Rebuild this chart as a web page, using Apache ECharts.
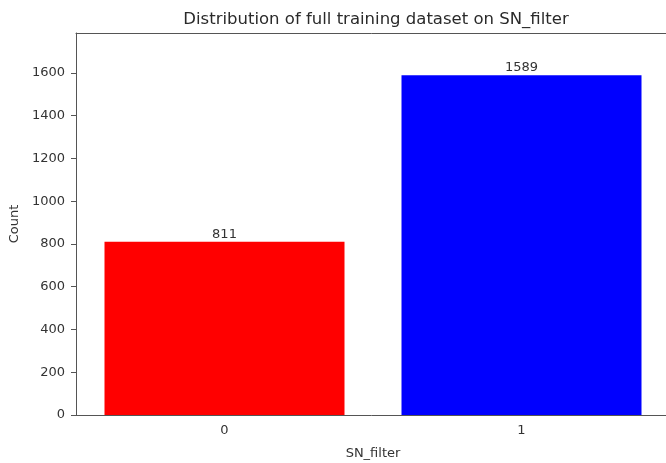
<!DOCTYPE html>
<html>
<head>
<meta charset="utf-8">
<script src="https://cdn.jsdelivr.net/npm/echarts@6/dist/echarts.min.js"></script>
<style>html,body{margin:0;padding:0;background:#fff}#c{width:666px;height:463px}</style>
</head>
<body>
<div id="c"></div>
<script>
const categories = ['0', '1'];
const counts = [811, 1589];
const barColors = ['#ff0000', '#0000ff'];
const yTicks = [0, 200, 400, 600, 800, 1000, 1200, 1400, 1600];

const chart = echarts.init(document.getElementById('c'), null, {renderer: 'canvas'});
const font = 'DejaVu Sans';
chart.setOption({
  animation: false,
  backgroundColor: '#fff',
  title: {
    text: 'Distribution of full training dataset on SN_filter',
    left: 371, top: 6, textAlign: 'center',
    textStyle: {fontFamily: font, fontSize: 16.5, fontWeight: 'normal', color: '#2a2a2a'}
  },
  grid: {left: 76, width: 594, top: 33, height: 382, show: false,
         outerBoundsMode: 'none', containLabel: false},
  xAxis: [{
    type: 'category', data: categories,
    name: 'SN_filter', nameLocation: 'middle', nameGap: 32,
    nameTextStyle: {fontFamily: font, fontSize: 13, color: '#333'},
    axisLine: {lineStyle: {color: '#555'}},
    axisTick: {alignWithLabel: true, length: 5, lineStyle: {color: '#555'}},
    axisLabel: {fontFamily: font, fontSize: 13, color: '#333', margin: 9}
  }, {
    type: 'category', data: categories, position: 'top',
    axisLine: {show: true, lineStyle: {color: '#555'}},
    axisTick: {show: false}, axisLabel: {show: false}, splitLine: {show: false}
  }],
  yAxis: {
    type: 'value', min: 0, max: 1787, interval: 200,
    name: 'Count', nameLocation: 'middle', nameGap: 52,
    nameTextStyle: {fontFamily: font, fontSize: 13, color: '#333'},
    axisLine: {show: true, lineStyle: {color: '#555'}},
    axisTick: {show: true, length: 5, lineStyle: {color: '#555'}},
    splitLine: {show: false},
    axisLabel: {fontFamily: font, fontSize: 13, color: '#333', margin: 11, showMaxLabel: false,
      formatter: v => yTicks.includes(v) ? String(v) : ''}
  },
  series: [{
    type: 'bar', barWidth: 240, xAxisIndex: 0,
    data: counts.map((v, i) => ({value: v, itemStyle: {color: barColors[i]}})),
    label: {show: true, position: 'top', distance: 1, fontFamily: font, fontSize: 13, color: '#333'}
  }]
});
</script>
</body>
</html>
